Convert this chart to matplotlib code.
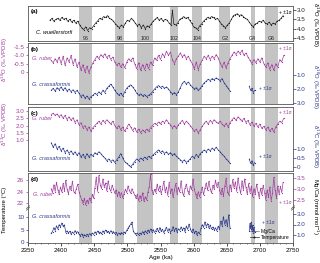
import numpy as np
import matplotlib
matplotlib.use("Agg")
import matplotlib.pyplot as plt
from matplotlib.lines import Line2D
from matplotlib.ticker import MultipleLocator

plt.rcParams['font.family'] = ['Liberation Sans', 'DejaVu Sans']

PURPLE = '#a0409f'
BLUE = '#2e3b8c'
BLACK = '#222222'
BAND = '#c4c4c4'

# glacial bands (ka) and their labels
bands = [(2427, 2447), (2482, 2495), (2514, 2538), (2564, 2576), (2598, 2612),
         (2639, 2655), (2686, 2692), (2707, 2727)]
band_labels = ['96', '98', '100', '102', '104', 'G2', 'G4', 'G6']

# (a) C. wuellerstorfi d18O
age_a = [2383, 2386, 2389, 2392, 2395, 2398, 2401, 2404, 2407, 2410, 2413, 2416, 2419, 2422, 2425,
         2428, 2431, 2434, 2437, 2440, 2443, 2446, 2449, 2452, 2455, 2458, 2461, 2464, 2467, 2470,
         2473, 2476, 2479, 2482, 2485, 2488, 2491, 2494, 2497, 2500, 2503, 2506, 2509, 2512, 2515,
         2518, 2521, 2524, 2527, 2530, 2533, 2536, 2539, 2542, 2545, 2548, 2551, 2554, 2557, 2560,
         2563, 2566, 2568, 2570, 2573, 2576, 2579, 2582, 2585, 2588, 2591, 2594, 2597, 2600, 2603,
         2606, 2609, 2612, 2615, 2618, 2621, 2624, 2627, 2630, 2633, 2636, 2639, 2642, 2645, 2648,
         2651, 2654, 2657, 2660, 2663, 2666, 2669, 2672, 2675, 2678, 2681, 2684, 2687, 2690, 2693,
         2696, 2699, 2702, 2705, 2708, 2711, 2714, 2717, 2720, 2723, 2726, 2729, 2732, 2735]
d18o_wuell = [3.55, 3.45, 3.6, 3.5, 3.45, 3.55, 3.4, 3.5, 3.45, 3.6, 3.5, 3.65, 3.55, 3.7, 3.6,
              3.8, 3.95, 4.05, 3.9, 4.1, 3.95, 4.0, 3.85, 3.7, 3.6, 3.45, 3.5, 3.35, 3.4, 3.3,
              3.45, 3.5, 3.6, 3.75, 3.85, 3.95, 3.8, 3.9, 3.7, 3.55, 3.6, 3.45, 3.55, 3.7, 3.85,
              3.75, 3.95, 3.8, 4.0, 3.85, 3.9, 3.75, 3.6, 3.5, 3.4, 3.55, 3.45, 3.6, 3.5, 3.55,
              3.7, 3.8, 3.0, 3.75, 3.8, 3.7, 3.5, 3.45, 3.35, 3.45, 3.4, 3.55, 3.7, 3.9, 3.95,
              4.05, 3.85, 3.75, 3.6, 3.5, 3.4, 3.45, 3.35, 3.4, 3.5, 3.45, 3.6, 3.75, 3.85, 3.95,
              3.8, 3.7, 3.5, 3.3, 3.25, 3.2, 3.3, 3.25, 3.35, 3.45, 3.5, 3.65, 3.8, 3.9, 3.75,
              3.7, 3.6, 3.65, 3.55, 3.7, 3.75, 3.65, 3.8, 3.7, 3.75, 3.6, 3.55, 3.45, 3.3]

# G. ruber, 3 ka steps (panels b, c)
age_rub = [2385, 2388, 2391, 2394, 2397, 2400, 2403, 2406, 2409, 2412, 2415, 2418, 2421, 2424, 2427,
           2430, 2433, 2436, 2439, 2442, 2445, 2448, 2451, 2454, 2457, 2460, 2463, 2466, 2469, 2472,
           2475, 2478, 2481, 2484, 2487, 2490, 2493, 2496, 2499, 2502, 2505, 2508, 2511, 2514, 2517,
           2520, 2523, 2526, 2529, 2532, 2535, 2538, 2541, 2544, 2547, 2550, 2553, 2556, 2559, 2562,
           2565, 2568, 2571, 2574, 2577, 2580, 2583, 2586, 2589, 2592, 2595, 2598, 2601, 2604, 2607,
           2610, 2613, 2616, 2619, 2622, 2625, 2628, 2631, 2634, 2637, 2640, 2643, 2646, 2649, 2652,
           2655, 2658, 2661, 2664, 2667, 2670, 2673, 2676, 2679, 2682, 2685, 2688, 2691, 2694, 2697,
           2700, 2703, 2706, 2709, 2712, 2715, 2718, 2721, 2724, 2727, 2730, 2733, 2736]
d18o_rub = [-0.7, -0.55, -0.8, -0.6, -0.9, -0.5, -0.95, -0.4, -0.85, -0.6, -1.0, -0.45, -0.8, -0.3, -0.6,
            -0.1, -0.45, 0.0, -0.35, 0.05, -0.3, -0.55, -0.75, -0.95, -0.8, -1.05, -0.9, -1.1, -0.85, -1.0,
            -0.75, -0.9, -0.6, -0.4, -0.55, -0.3, -0.5, -0.25, -0.6, -0.8, -0.65, -0.85, -0.5, -0.2, -0.55,
            -0.1, -0.45, -0.15, -0.5, -0.2, -0.6, -0.4, -0.85, -0.7, -1.0, -0.75, -1.1, -0.9, -1.25, -1.0,
            -1.2, -0.75, -0.5, -0.8, -0.95, -1.15, -0.9, -1.05, -0.8, -0.95, -0.7, -0.5, -0.2, -0.6, -0.15,
            -0.5, -0.7, -0.95, -0.8, -1.0, -0.75, -0.95, -0.8, -1.05, -0.85, -0.55, -0.3, -0.6, -0.25, -0.55,
            -0.8, -1.0, -1.2, -1.05, -1.25, -1.1, -1.3, -1.0, -1.15, -0.9, -0.7, -0.5, -0.75, -0.55, -0.8,
            -0.6, -0.85, -0.5, -0.3, -0.55, -0.15, -0.45, -0.1, -0.5, -0.3, -0.75, -0.6, -1.0]
d13c_rub = [2.75, 2.85, 2.7, 2.8, 2.6, 2.75, 2.5, 2.7, 2.4, 2.6, 2.35, 2.55, 2.2, 2.4, 2.05,
            2.2, 1.85, 2.0, 1.7, 1.9, 1.6, 1.85, 2.0, 2.15, 2.3, 2.1, 2.35, 2.2, 2.4, 2.25,
            2.1, 2.3, 2.0, 1.8, 2.0, 1.7, 1.9, 1.6, 1.85, 2.1, 1.9, 1.65, 1.85, 1.55, 1.75,
            1.5, 1.7, 1.55, 1.75, 1.6, 1.85, 2.0, 2.15, 2.05, 2.25, 2.1, 2.3, 2.2, 2.4, 2.2,
            2.05, 1.85, 2.0, 1.8, 2.05, 2.2, 2.35, 2.1, 2.3, 2.15, 2.0, 1.8, 1.6, 1.75, 1.5,
            1.7, 1.95, 2.15, 2.3, 2.1, 2.35, 2.2, 2.4, 2.25, 2.15, 2.3, 2.1, 1.95, 2.15, 1.9,
            2.2, 2.4, 2.55, 2.35, 2.6, 2.45, 2.3, 2.5, 2.2, 2.35, 2.05, 2.25, 1.95, 2.15, 1.9,
            2.1, 1.8, 1.95, 1.7, 1.9, 1.6, 1.8, 1.55, 1.9, 2.1, 2.3, 2.2, 2.5]

# G. crassaformis, 3 ka steps with a gap (panels b, c)
age_cra = [2385, 2388, 2391, 2394, 2397, 2400, 2403, 2406, 2409, 2412, 2415, 2418, 2421, 2424, 2427,
           2430, 2433, 2436, 2439, 2442, 2445, 2448, 2451, 2454, 2457, 2460, 2463, 2466, 2469, 2472,
           2475, 2478, 2481, 2484, 2487, 2490, 2493, 2496, 2499, 2502, 2505, 2508, 2511, 2514, 2517,
           2520, 2523, 2526, 2529, 2532, 2535, 2538, 2541, 2544, 2547, 2550, 2553, 2556, 2559, 2562,
           2565, 2568, 2571, 2574, 2577, 2580, 2583, 2586, 2589, 2592, 2595, 2598, 2601, 2604, 2607,
           2610, 2613, 2616, 2619, 2622, 2625, 2628, 2631, 2634, 2637, 2640, 2643, 2646, 2649, 2652,
           2655, 2670, 2684, 2686, 2688, 2690, 2692]
d18o_cra = [2.1, 1.95, 2.15, 1.9, 2.05, 1.85, 2.1, 1.9, 2.15, 2.0, 2.2, 2.05, 2.25, 2.1, 2.3,
            2.55, 2.4, 2.65, 2.5, 2.7, 2.55, 2.45, 2.3, 2.4, 2.2, 2.35, 2.1, 2.25, 1.95, 1.8,
            1.65, 1.85, 2.1, 2.3, 2.45, 2.3, 2.5, 2.2, 1.95, 1.8, 1.7, 1.85, 2.05, 2.3, 2.45,
            2.35, 2.5, 2.4, 2.55, 2.45, 2.35, 2.2, 2.0, 1.85, 1.75, 1.9, 1.8, 1.95, 1.85, 2.0,
            2.2, 2.35, 2.25, 2.4, 2.2, 1.9, 1.6, 1.45, 1.65, 1.5, 1.7, 1.85, 2.0, 1.9, 2.1,
            1.95, 1.75, 1.55, 1.45, 1.3, 1.4, 1.25, 1.35, 1.2, 1.3, 1.4, 1.25, 1.55, 1.75, 1.95,
            2.15, np.nan, 1.8, 2.1, 1.95, 2.25, 2.1]
d13c_cra = [1.35, 1.1, 1.3, 1.0, 1.15, 0.9, 1.05, 0.8, 0.95, 0.75, 0.9, 0.7, 0.85, 0.65, 0.8,
            0.55, 0.7, 0.5, 0.75, 0.55, 0.7, 0.6, 0.8, 0.7, 0.85, 0.75, 0.6, 0.5, 0.35, 0.45,
            0.3, 0.4, 0.25, 0.4, 0.55, 0.75, 0.5, 0.3, 0.2, 0.1, 0.0, 0.15, 0.3, 0.45, 0.35,
            0.5, 0.4, 0.55, 0.45, 0.6, 0.5, 0.65, 0.75, 0.85, 0.95, 0.8, 0.9, 0.75, 0.85, 0.7,
            0.8, 0.65, 0.75, 0.6, 0.5, 0.4, 0.3, 0.4, 0.25, 0.35, 0.45, 0.6, 0.5, 0.7, 0.55,
            0.75, 0.85, 0.95, 0.85, 1.0, 0.9, 1.05, 0.95, 1.1, 0.95, 0.85, 0.7, 0.6, 0.45, 0.35,
            0.2, np.nan, 0.45, 0.2, 0.35, 0.1, 0.25]

# (d) Mg/Ca temperatures, 2 ka steps
age_t_rub = list(range(2385, 2736, 2))
temp_rub = [24.5, 23.8, 25.2, 24.0, 25.6, 24.3, 23.5, 24.8, 23.9, 25.4, 24.1, 26.0, 24.4, 23.6, 24.9,
            24.2, 25.8, 24.0, 23.7, 24.5, 25.3, 24.0, 23.2, 22.6, 21.9, 22.8, 21.7, 22.5, 22.0, 22.9,
            22.2, 23.5, 22.8, 24.6, 26.5, 24.0, 26.8, 25.2, 24.5, 26.2, 24.8, 25.5, 24.1, 25.9, 24.6,
            24.0, 25.1, 24.4, 23.7, 24.3, 23.2, 24.0, 23.1, 23.8, 22.9, 23.6, 24.4, 23.8, 25.0, 24.2,
            23.7, 24.5, 23.9, 23.4, 22.8, 23.5, 22.4, 23.3, 22.6, 23.8, 22.3, 23.1, 22.5, 23.9, 24.8,
            27.0, 24.2, 23.5, 24.4, 23.8, 25.3, 24.1, 25.0, 23.6, 24.5, 25.8, 23.9, 24.8, 23.3, 25.6,
            23.7, 24.5, 23.0, 24.2, 25.4, 23.6, 24.7, 23.9, 25.9, 24.0, 23.2, 24.6, 25.3, 24.1, 23.5,
            25.0, 24.3, 26.2, 24.4, 23.6, 22.8, 24.0, 23.1, 23.9, 24.8, 23.4, 24.6, 25.5, 24.2, 25.8,
            24.5, 23.7, 25.1, 24.4, 26.0, 24.8, 25.6, 24.3, 23.5, 24.6, 23.2, 24.9, 26.3, 24.0, 23.4,
            25.2, 24.1, 26.1, 24.6, 25.7, 24.0, 26.4, 24.8, 23.6, 25.9, 24.3, 26.2, 24.7, 23.5, 25.4,
            23.8, 24.9, 23.1, 24.5, 23.6, 25.3, 24.0, 22.9, 24.6, 23.4, 25.1, 23.8, 22.6, 24.3, 23.0,
            24.8, 22.4, 23.7, 26.5, 24.2, 22.9, 25.0, 23.5, 24.9, 23.8, 25.6]

age_t_cra = list(range(2385, 2656, 2)) + [2670, 2684, 2685, 2686, 2687, 2688, 2689, 2690, 2691, 2692]
temp_cra = [3.5, 4.2, 5.8, 4.6, 6.5, 5.2, 7.0, 6.1, 7.6, 6.4, 6.9, 3.8, 4.5, 3.6, 4.3,
            3.2, 4.0, 3.4, 4.6, 3.7, 4.2, 3.1, 2.5, 3.3, 2.2, 3.0, 2.4, 3.1, 2.6, 3.4,
            2.8, 3.6, 3.0, 4.1, 3.3, 4.4, 3.6, 4.0, 3.2, 4.5, 3.7, 4.8, 3.9, 4.3, 3.5,
            4.6, 3.8, 4.2, 3.3, 3.9, 2.9, 3.6, 3.1, 3.8, 3.3, 4.0, 3.6, 4.7, 5.5, 6.4,
            7.2, 8.0, 4.3, 3.5, 3.0, 3.7, 2.9, 3.6, 3.1, 4.2, 3.3, 4.5, 3.6, 4.8, 3.9,
            5.2, 4.1, 5.0, 3.8, 4.6, 5.5, 4.0, 5.8, 4.3, 5.1, 3.7, 4.9, 5.9, 4.2, 5.4,
            3.8, 4.7, 6.2, 4.4, 5.6, 4.0, 5.3, 4.6, 6.0, 4.8, 5.7, 4.1, 6.4, 5.0, 7.2,
            5.4, 3.9, 5.2, 3.6, 4.4, 2.8, 4.0, 3.2, 5.5, 7.0, 5.8, 8.1, 6.2, 7.4, 5.6,
            6.8, 5.2, 6.0, 4.9, 5.7, 4.5, 6.3, 5.1, 8.4, 6.5, 10.2, 7.0, 9.0, 6.4, 11.0,
            5.5, np.nan, 4.5, 7.5, 5.2, 8.0, 4.6, 6.8, 3.8, 5.9, 4.2]

W, H = 320, 263
L, R = 28, 293
fig = plt.figure(figsize=(W / 100, H / 100), dpi=100)


def rect(top, bot):
    return [L / W, 1 - bot / H, (R - L) / W, (bot - top) / H]


def ftext(x, y, s, **kw):
    fig.text(x / W, 1 - y / H, s, **kw)


def frame(top, bot, name, last=False):
    ax = fig.add_axes(rect(top, bot), label='frame' + name)
    ax.set_xlim(2350, 2750)
    ax.set_yticks([])
    for a, b in bands:
        ax.axvspan(a, b, color=BAND, lw=0)
    for s in ax.spines.values():
        s.set_linewidth(0.6)
        s.set_color('#555555')
    if last:
        ax.set_xticks([2350, 2400, 2450, 2500, 2550, 2600, 2650, 2700, 2750])
        ax.set_xticklabels(['2350', '2400', '2450', '2500', '2550', '2600', '2650', '2700', '2750'])
        ax.xaxis.set_minor_locator(MultipleLocator(10))
        ax.tick_params(axis='x', which='major', labelsize=4.5, length=2, width=0.5, pad=1.5)
        ax.tick_params(axis='x', which='minor', length=1, width=0.4)
    else:
        ax.set_xticks([])
    ftext(31, top + 6, '(' + name + ')', fontsize=4.5, fontweight='bold', va='center')
    return ax


def overlay(top, bot, name, v1, p1, v2, p2, ticks, side, color, labels=None):
    ax = fig.add_axes(rect(top, bot), label=name, facecolor='none')
    ax.set_xlim(2350, 2750)
    k = (v2 - v1) / (p2 - p1)
    ax.set_ylim(v1 + (bot - p1) * k, v1 + (top - p1) * k)
    for s in ax.spines.values():
        s.set_visible(False)
    ax.set_xticks([])
    ax.yaxis.set_ticks_position(side)
    ax.set_yticks(ticks)
    ax.set_yticklabels(labels if labels else ['%.1f' % t for t in ticks])
    ax.tick_params(axis='y', labelsize=4.5, length=1.8, width=0.5, pad=1,
                   colors=color, labelcolor=color)
    return ax


def series(ax, x, y, color):
    ax.plot(x, y, color=color, lw=0.5, marker='o', ms=0.9, mew=0)


# panel (a)
PA = (6, 41)
frame(*PA, 'a')
ax = overlay(*PA, 'a1', 3.0, 10, 4.5, 38, [3.0, 3.5, 4.0, 4.5], 'right', BLACK)
series(ax, age_a, d18o_wuell, BLACK)
for (a, b), lab in zip(bands, band_labels):
    ax.text((a + b) / 2, 4.52, lab, fontsize=3.8, ha='center', va='center', color=BLACK)
ftext(36, 32, 'C. wuellerstorfi', fontsize=4, style='italic', va='center')
ftext(292, 13, '+ ±1σ', fontsize=3.5, va='center', ha='right')
ftext(315, 24, 'δ$^{18}$O (‰ VPDB)', fontsize=4.3, rotation=270, ha='center', va='center')

# panel (b)
PB = (43, 104)
frame(*PB, 'b')
ax = overlay(*PB, 'b1', -1.5, 47, 0.0, 72, [-1.5, -1.0, -0.5, 0], 'left', PURPLE,
             ['-1.5', '-1.0', '-0.5', '0'])
series(ax, age_rub, d18o_rub, PURPLE)
ax = overlay(*PB, 'b2', 1.0, 75, 3.0, 103, [1.0, 2.0, 3.0], 'right', BLUE)
series(ax, age_cra, d18o_cra, BLUE)
ftext(32, 59, 'G. ruber', fontsize=4, style='italic', va='center', color=PURPLE)
ftext(32, 84, 'G. crassaformis', fontsize=4, style='italic', va='center', color=BLUE)
ftext(292, 48, '+ ±1σ', fontsize=3.5, va='center', ha='right', color=PURPLE)
ftext(259, 89, '+ ±1σ', fontsize=3.5, va='center', color=BLUE)
ftext(5, 60, 'δ$^{18}$O (‰ VPDB)', fontsize=4.3, rotation=90, ha='center', va='center', color=PURPLE)
ftext(315, 86, 'δ$^{18}$O (‰ VPDB)', fontsize=4.3, rotation=270, ha='center', va='center', color=BLUE)

# panel (c)
PC = (107, 171)
frame(*PC, 'c')
ax = overlay(*PC, 'c1', 3.0, 111, 1.0, 140, [1.0, 1.5, 2.0, 2.5, 3.0], 'left', PURPLE)
series(ax, age_rub, d13c_rub, PURPLE)
ax = overlay(*PC, 'c2', 1.0, 149, 0.0, 167, [0, 0.5, 1.0], 'right', BLUE, ['0', '0.5', '1.0'])
series(ax, age_cra, d13c_cra, BLUE)
ftext(32, 118, 'G. ruber', fontsize=4, style='italic', va='center', color=PURPLE)
ftext(32, 158, 'G. crassaformis', fontsize=4, style='italic', va='center', color=BLUE)
ftext(292, 112, '+ ±1σ', fontsize=3.5, va='center', ha='right', color=PURPLE)
ftext(259, 156, '+ ±1σ', fontsize=3.5, va='center', color=BLUE)
ftext(5, 124, 'δ$^{13}$C (‰ VPDB)', fontsize=4.3, rotation=90, ha='center', va='center', color=PURPLE)
ftext(315, 146, 'δ$^{13}$C (‰ VPDB)', fontsize=4.3, rotation=270, ha='center', va='center', color=BLUE)

# panel (d)
PD = (173, 243)
axd = frame(*PD, 'd', last=True)
axd.set_xlabel('Age (ka)', fontsize=4.5, labelpad=1.5)
ax = overlay(*PD, 'd1', 26, 180, 22, 203, [22, 24, 26], 'left', PURPLE, ['22', '24', '26'])
series(ax, age_t_rub, temp_rub, PURPLE)
ax = overlay(*PD, 'd2', 10, 217, 0, 242, [0, 5, 10], 'left', BLUE, ['0', '5', '10'])
series(ax, age_t_cra, temp_cra, BLUE)
overlay(*PD, 'd3', 3.5, 178, 2.5, 200, [2.5, 3.0, 3.5], 'right', PURPLE)
overlay(*PD, 'd4', 3.0, 214, 1.0, 235, [1.0, 2.0, 3.0], 'right', BLUE)
ybrk = (243 - 208) / (243 - 173)
for xb in (0, 1):
    for dy in (-0.012, 0.012):
        axd.plot([xb - 0.006, xb + 0.006], [ybrk + dy - 0.02, ybrk + dy + 0.02],
                 transform=axd.transAxes, color='#555555', lw=0.5, clip_on=False)
ftext(33, 194, 'G. ruber', fontsize=4, style='italic', va='center', color=PURPLE)
ftext(32, 217, 'G. crassaformis', fontsize=4, style='italic', va='center', color=BLUE)
ftext(292, 202, '+ ±1σ', fontsize=3.5, va='center', ha='right', color=PURPLE)
ftext(262, 223, '+ ±1σ', fontsize=3.5, va='center', color=BLUE)
ftext(5, 210, 'Temperature (°C)', fontsize=4.3, rotation=90, ha='center', va='center')
ftext(315, 207, 'Mg/Ca (mmol mol$^{-1}$)', fontsize=4.3, rotation=270, ha='center', va='center')
handles = [Line2D([], [], color='#777777', lw=0.5, marker='+', ms=2.5, mew=0.5),
           Line2D([], [], color=BLACK, lw=0.5, marker='o', ms=1.5, mew=0)]
axd.legend(handles, ['Mg/Ca', 'Temperature'], loc='lower right', fontsize=3.6,
           frameon=False, handlelength=1.8, borderaxespad=0.3, labelspacing=0.2,
           handletextpad=0.4)

fig.savefig('out.png', dpi=100)
